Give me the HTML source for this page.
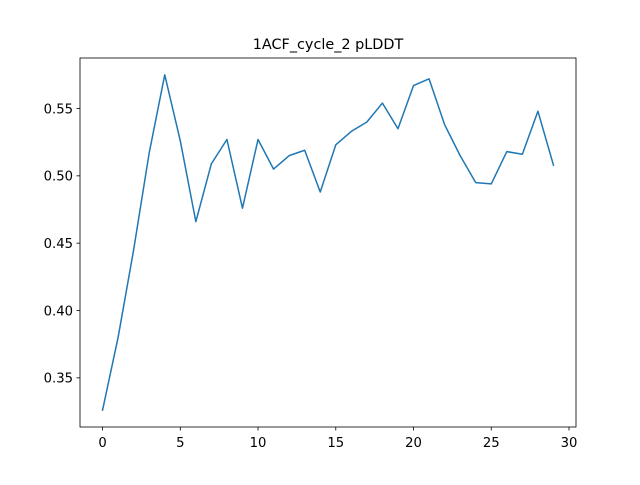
<!DOCTYPE html>
<html><head><meta charset="utf-8"><style>
body{margin:0;background:#fff;}
svg{font-family:"DejaVu Sans","Liberation Sans",sans-serif;}
</style></head><body>
<svg id="chart" width="640" height="480">
<rect x="0" y="0" width="640" height="480" fill="#fff"/>
<text x="328" y="49" font-size="14.4" text-anchor="middle">1ACF_cycle_2 pLDDT</text>
<g id="axes"></g>
</svg>
<script>
const xValues=[0,1,2,3,4,5,6,7,8,9,10,11,12,13,14,15,16,17,18,19,20,21,22,23,24,25,26,27,28,29];
const yValues=[0.326,0.380,0.445,0.517,0.575,0.526,0.466,0.509,0.527,0.476,0.527,0.505,0.515,0.519,0.488,0.523,0.533,0.540,0.554,0.535,0.567,0.572,0.538,0.515,0.495,0.494,0.518,0.516,0.548,0.508];
const xTicks=[0,5,10,15,20,25,30];
const yTicks=[0.35,0.40,0.45,0.50,0.55];
const yTickLabels=["0.35","0.40","0.45","0.50","0.55"];
const L=80,R=576,T=58,B=427;
const xMin=-1.45,xMax=30.45,yMin=0.3135,yMax=0.5875;
const sx=v=>L+(v-xMin)/(xMax-xMin)*(R-L);
const sy=v=>B-(v-yMin)/(yMax-yMin)*(B-T);
const NS="http://www.w3.org/2000/svg";
const g=document.getElementById('axes');
function mk(t,a){const e=document.createElementNS(NS,t);for(const k in a)e.setAttribute(k,a[k]);g.appendChild(e);return e;}
const frame=mk('rect',{x:L,y:T,width:R-L,height:B-T,fill:'none',stroke:'#000','stroke-width':0.8});


xTicks.forEach(v=>{
 const x=sx(v);
 const tk=mk('line',{x1:x,x2:x,y1:B,y2:B+3.5,stroke:'#000','stroke-width':0.8});
 
 
 const tx=mk('text',{x:x,y:447,'font-size':13.2,'text-anchor':'middle'});
 tx.textContent=String(v);
 
 
});
yTicks.forEach((v,i)=>{
 const y=sy(v);
 const tk=mk('line',{x1:L-3.5,x2:L,y1:y,y2:y,stroke:'#000','stroke-width':0.8});
 
 
 const tx=mk('text',{x:L-7,y:y+4.8,'font-size':13.2,'text-anchor':'end'});
 tx.textContent=yTickLabels[i];
 
 
});
const pts=xValues.map((x,i)=>sx(x).toFixed(2)+','+sy(yValues[i]).toFixed(2)).join(' ');
const line=mk('polyline',{points:pts,fill:'none',stroke:'#1f77b4','stroke-width':1.5,'stroke-linejoin':'round','stroke-linecap':'square'});


</script>
</body></html>
